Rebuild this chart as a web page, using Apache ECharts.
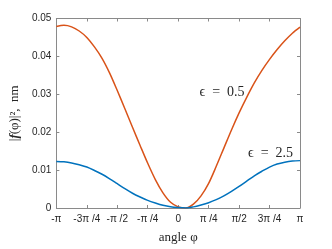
<!DOCTYPE html>
<html><head><meta charset="utf-8">
<script src="https://cdn.jsdelivr.net/npm/echarts@6/dist/echarts.min.js"></script>
<style>html,body{margin:0;padding:0;background:#fff}#c{width:332px;height:249px}</style>
</head><body><div id="c"></div>
<script>
// angle in units of pi, step pi/16
var anglesPi = [-1, -0.9375, -0.875, -0.8125, -0.75, -0.6875, -0.625, -0.5625, -0.5, -0.4375, -0.375, -0.3125, -0.25, -0.1875, -0.125, -0.0625,
  0, 0.0625, 0.125, 0.1875, 0.25, 0.3125, 0.375, 0.4375, 0.5, 0.5625, 0.625, 0.6875, 0.75, 0.8125, 0.875, 0.9375, 1];
var eps05 = [0.0479, 0.0482, 0.0478, 0.0467, 0.0450, 0.0425, 0.0395, 0.0356, 0.0310, 0.0262, 0.0213, 0.0165, 0.0118, 0.0075, 0.0040, 0.0015,
  0.0003, 0.0000, 0.0010, 0.0032, 0.0065, 0.0110, 0.0158, 0.0206, 0.0251, 0.0292, 0.0330, 0.0363, 0.0392, 0.0418, 0.0441, 0.0461, 0.0477];
var eps25 = [0.0123, 0.0122, 0.0119, 0.0114, 0.0108, 0.0099, 0.0089, 0.0077, 0.0064, 0.0051, 0.0039, 0.0029, 0.0020, 0.0013, 0.0007, 0.0003,
  0.0001, 0.0000, 0.0003, 0.0008, 0.0014, 0.0022, 0.0032, 0.0044, 0.0057, 0.0071, 0.0085, 0.0097, 0.0108, 0.0116, 0.0121, 0.0124, 0.0125];
var xTickLabels = ['-\u03c0', '-3\u03c0 /4', '-\u03c0 /2', '-\u03c0 /4', '0', '\u03c0 /4', '\u03c0/2', '3\u03c0 /4', '\u03c0'];
var labelNames = ['\u03f5\u2002=\u20020.5', '\u03f5\u2002=\u20022.5'];
var labelPos = [[0.36, 0.0305], [0.758, 0.0145]];

function pairs(ys){ return anglesPi.map(function(a,i){return [a, ys[i]];}); }
var axisColor = '#8a8a8a';
var chart = echarts.init(document.getElementById('c'), null, {renderer:'canvas'});
chart.setOption({
  animation:false,
  backgroundColor:'#fff',
  grid:{left:43.5, right:32, top:18.5, bottom:34},
  xAxis:[{
    type:'value', min:-1, max:1, interval:0.25,
    axisLine:{onZero:false, lineStyle:{color:axisColor, width:1}},
    axisTick:{inside:true, length:3, lineStyle:{color:axisColor}},
    splitLine:{show:false},
    axisLabel:{color:'#262626', fontFamily:'Liberation Sans', fontSize:10, margin:6,
      formatter:function(v){ var i=Math.round((v+1)/0.25); return xTickLabels[i]; }},
    name:'angle \u03c6', nameLocation:'middle', nameGap:23,
    nameTextStyle:{color:'#262626', fontFamily:'Liberation Serif', fontSize:13}
  },{
    type:'value', min:-1, max:1, interval:0.25, position:'top',
    axisLine:{onZero:false, lineStyle:{color:axisColor}},
    axisTick:{inside:true, length:3, lineStyle:{color:axisColor}},
    axisLabel:{show:false}, splitLine:{show:false}
  }],
  yAxis:[{
    type:'value', min:0, max:0.05, interval:0.01,
    axisLine:{show:true, onZero:false, lineStyle:{color:axisColor}},
    axisTick:{show:true, inside:true, length:3, lineStyle:{color:axisColor}},
    splitLine:{show:false},
    axisLabel:{color:'#262626', fontFamily:'Liberation Sans', fontSize:10, margin:5},
    name:'{a||}{f|f}{a|(\u03c6)|\u00b2,\u2002nm}', nameLocation:'middle', nameGap:30,
    nameTextStyle:{color:'#262626', fontFamily:'Liberation Serif', fontSize:13,
      rich:{a:{fontFamily:'Liberation Serif', fontSize:13, color:'#262626'},
            f:{fontFamily:'Liberation Serif', fontSize:13, fontWeight:'bold', fontStyle:'italic', color:'#262626'}}}
  },{
    type:'value', min:0, max:0.05, interval:0.01, position:'right',
    axisLine:{show:true, onZero:false, lineStyle:{color:axisColor}},
    axisTick:{show:true, inside:true, length:3, lineStyle:{color:axisColor}},
    axisLabel:{show:false}, splitLine:{show:false}
  }],
  series:[{
    type:'line', data:pairs(eps05), smooth:0.3, symbol:'none',
    lineStyle:{color:'#D95319', width:1.5},
    markPoint:{symbol:'circle', symbolSize:0, silent:true,
      data:[{coord:labelPos[0], label:{show:true, formatter:labelNames[0], color:'#262626', fontFamily:'Liberation Serif', fontSize:14, position:'inside'}}]}
  },{
    type:'line', data:pairs(eps25), smooth:0.3, symbol:'none',
    lineStyle:{color:'#0072BD', width:1.5},
    markPoint:{symbol:'circle', symbolSize:0, silent:true,
      data:[{coord:labelPos[1], label:{show:true, formatter:labelNames[1], color:'#262626', fontFamily:'Liberation Serif', fontSize:14, position:'inside'}}]}
  }]
});
</script></body></html>
